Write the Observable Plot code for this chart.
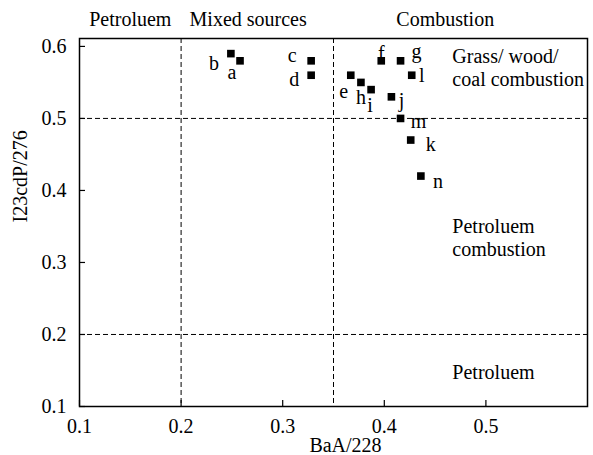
<!DOCTYPE html>
<html><head><meta charset="utf-8">
<script src="https://cdn.jsdelivr.net/npm/d3@7"></script>
<script src="https://cdn.jsdelivr.net/npm/@observablehq/plot@0.6"></script>
<style>body{margin:0;background:#fff}</style>
</head><body><div id="chart"></div>
<script>
const names = ["a","b","c","d","e","f","g","h","i","j","k","l","m","n"];
const baa   = [0.258,0.249,0.328,0.328,0.367,0.397,0.416,0.377,0.387,0.407,0.426,0.427,0.416,0.436];
const icdp  = [0.58,0.59,0.58,0.56,0.56,0.58,0.58,0.55,0.54,0.53,0.47,0.56,0.50,0.42];
const xTicks = [0.1,0.2,0.3,0.4,0.5];
const yTicks = [0.1,0.2,0.3,0.4,0.5,0.6];
const xThresholds = [0.2,0.35];
const yThresholds = [0.5,0.2];
const topLabels = ["Petroluem","Mixed sources","Combustion"];
const topLabelX = [0.150,0.266,0.460];
const zoneLabels = ["Grass/ wood/\ncoal combustion","Petroluem\ncombustion","Petroluem"];
const zoneLabelX = 0.467;
const zoneLabelY = [0.571,0.335,0.148];

// label placement offsets (px) per point, in the order of names
const labelDx = [-8,-17,-19,-17,-7,0,16,0,-1,10,20,10,18,17];
const labelDy = [12,10,-5,4,16,-7,-9,15,16,4,5,0,3,6];

const pts = names.map((n,i)=>({name:n,x:baa[i],y:icdp[i],dx:labelDx[i],dy:labelDy[i]}));
const W=593,H=455,mL=79,mR=6,mT=38,mB=49;
const innerW=W-mL-mR, innerH=H-mT-mB;
const FF = "'Liberation Serif', 'Times New Roman', serif";
const FS = 20;

const labelMarks = pts.map(p=>Plot.text([p],{x:"x",y:"y",text:"name",dx:p.dx,dy:p.dy,fontSize:FS,fontFamily:FF}));

const plot = Plot.plot({
  width:W,height:H,marginLeft:mL,marginRight:mR,marginTop:mT,marginBottom:mB,
  style:{fontFamily:FF,fontSize:FS+"px",color:"#000",background:"#fff"},
  x:{domain:[0.1,0.6]},
  y:{domain:[0.1,0.611]},
  marks:[
    Plot.ruleX(xThresholds,{stroke:"#000",strokeWidth:1,strokeDasharray:"5,3"}),
    Plot.ruleY(yThresholds,{stroke:"#000",strokeWidth:1,strokeDasharray:"5,3"}),
    Plot.ruleX(xTicks,{stroke:"#000",strokeWidth:1.2,insetTop:innerH-6}),
    Plot.ruleY(yTicks,{stroke:"#000",strokeWidth:1.2,insetRight:innerW-6}),
    Plot.frame({stroke:"#000",strokeWidth:1.5}),
    Plot.axisX(xTicks,{tickSize:0,tickPadding:12,fontSize:FS,fontFamily:FF,label:null,tickFormat:d3.format(".1f")}),
    Plot.axisY(yTicks,{tickSize:0,tickPadding:13,fontSize:FS,fontFamily:FF,label:null,tickFormat:d3.format(".1f")}),
    Plot.dot(pts,{x:"x",y:"y",symbol:"square",r:4.3,fill:"#000",stroke:null}),
    ...labelMarks,
    Plot.text(topLabels,{x:(d,i)=>topLabelX[i],text:d=>d,frameAnchor:"top",lineAnchor:"middle",dy:-19,fontSize:FS,fontFamily:FF}),
    Plot.text(zoneLabels,{x:()=>zoneLabelX,y:(d,i)=>zoneLabelY[i],text:d=>d,textAnchor:"start",lineAnchor:"middle",fontSize:FS,fontFamily:FF,lineHeight:1.15}),
    Plot.text(["BaA/228"],{frameAnchor:"bottom",lineAnchor:"middle",dx:12,dy:39,text:d=>d,fontSize:FS,fontFamily:FF}),
    Plot.text(["I23cdP/276"],{frameAnchor:"left",lineAnchor:"middle",dx:-59,rotate:-90,text:d=>d,fontSize:FS,fontFamily:FF})
  ]
});
document.getElementById("chart").appendChild(plot);
</script>
</body></html>
